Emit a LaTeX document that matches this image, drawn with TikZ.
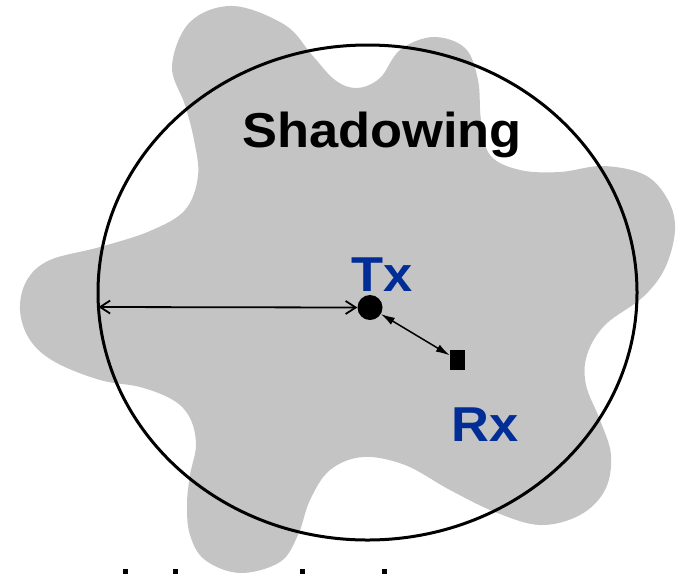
\documentclass[tikz,border=0pt]{standalone}
\usepackage{fontspec}
\setmainfont{Liberation Sans}
\usepackage{tikz}
\usetikzlibrary{arrows.meta}
\definecolor{shadegray}{RGB}{196,196,196}
\definecolor{txblue}{RGB}{0,45,150}

\begin{document}
\begin{tikzpicture}[x=1pt, y=-1pt,
  lbl/.style={font=\fontsize{49}{49}\selectfont\bfseries, inner sep=0pt, anchor=base, xscale=1.07},
  dev/.style={fill=black, inner sep=0pt}]
 \useasboundingbox (0,0) rectangle (687,574);
 % shadowing area
 \fill[shadegray] plot[smooth cycle, tension=0.6] coordinates {
   (233,6) (285,25) (312,55) (335,80) (357,88) (380,78) (400,50) (433,37)
   (465,48) (478,80) (481,120) (490,155) (520,170) (560,172) (603,166)
   (645,175) (668,200) (675,230) (665,268) (643,297) (605,325) (587,355)
   (586,385) (600,420) (611,455) (605,490) (580,515) (540,525) (495,512)
   (450,490) (405,465) (363,457) (330,470) (310,500) (298,535) (280,562)
   (240,573) (205,560) (190,535) (187,505) (190,475) (196,445) (190,418)
   (173,400) (140,387) (100,380) (55,362) (30,340) (20,310) (27,280)
   (50,260) (100,247) (150,231) (185,210) (198,176) (194,140) (185,105)
   (172,66) (190,22)};
 % path loss range
 \draw[line width=3pt] (367.5,292.5) ellipse [x radius=269.5pt, y radius=247.5pt];
 \node[lbl] (shadow) at (382,147) {Shadowing};
 \node[lbl, text=txblue] (txlabel) at (382,291) {Tx};
 \node[lbl, text=txblue] (rxlabel) at (485.5,441) {Rx};
 \node[dev, circle, minimum size=25pt] (tx) at (370,307.5) {};
 \node[dev, rectangle, minimum width=15pt, minimum height=20pt] (rx) at (457.5,360) {};
 \coordinate (rim) at (98.5,307);
 \path
  (rim) edge[line width=1.8pt, {Straight Barb[length=10pt,width=13pt]}-{Straight Barb[length=10pt,width=13pt]}] (tx.west)
  (tx) edge[line width=1.5pt, {Latex[length=14pt,width=8pt]}-{Latex[length=14pt,width=8pt]}] (rx)
;
 % cut-off text below
 \foreach \xa in {125,175,302,384}
  \fill (\xa-2.5,569) rectangle (\xa+2.5,574);
\end{tikzpicture}
\end{document}
